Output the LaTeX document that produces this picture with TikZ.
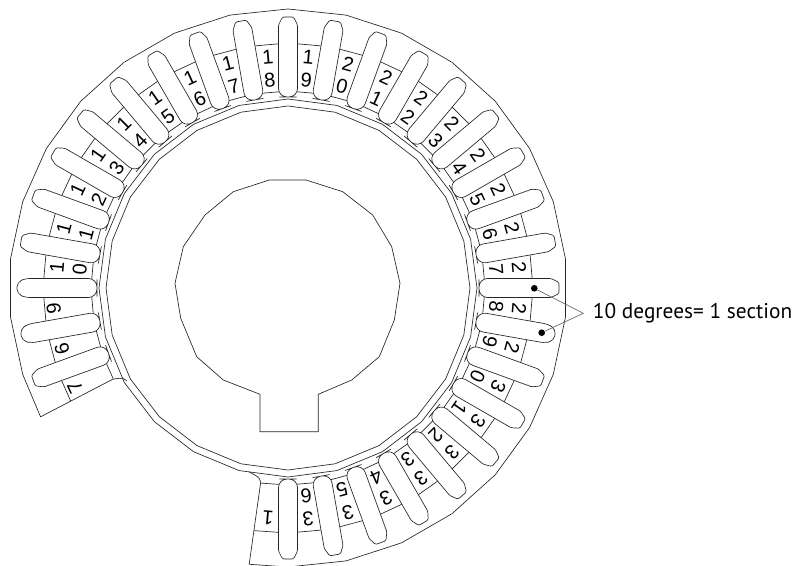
\documentclass[tikz,border=0pt]{standalone}
\usepackage{fontspec}
\usetikzlibrary{positioning}
\newfontfamily\digitfont{Liberation Sans}
\newfontfamily\calloutfont{PT Sans}

\newcommand{\sectiontab}[2]{
  \draw[tab shape,rotate=#1] (191,0) [rounded corners=6.5pt] -- (191,-9.5) -- (225,-9.5)
    [rounded corners=#2pt] -- (263,-9.5) -- (271,-5.5) -- (271,5.5) -- (263,9.5) -- (225,9.5)
    [rounded corners=6.5pt] -- (191,9.5) -- cycle;
}

\begin{document}
\begin{tikzpicture}[x=0.75pt,y=0.75pt,line width=0.5pt,
                    ring line/.style={draw=black!85},
                    tab shape/.style={draw=black!85,fill=white},
                    digit node/.style={inner sep=0pt,font=\digitfont\fontsize{15}{15}\selectfont},
                    end dot/.style={circle,fill=black,inner sep=0pt,minimum size=5pt},
                    callout node/.style={inner sep=0pt,font=\calloutfont\fontsize{16}{16}\selectfont}]

  \useasboundingbox (0,0) rectangle (793,565);

  % key shape in the middle
  \draw[ring line] (269.3,385) -- (306,385) -- (342.7,373.3) -- (372.7,350) -- (391.7,318.3)
    -- (400,281.7) -- (394.3,245) -- (379.3,208.3) -- (351.7,185) -- (318.3,170.7)
    -- (318.3,133.3) -- (260,133.3) -- (260,170.7) -- (223.3,185) -- (196.7,208.3)
    -- (180.7,246.7) -- (175,281.7) -- (183.3,318.3) -- (205,350) -- (233.3,373.3) -- cycle;

  \begin{scope}[shift={(288,277)}]
    % the two rings
    \draw[ring line] (0:182) \foreach \a in {15,30,...,345} {-- (\a:182)} -- cycle;
    \draw[ring line] (0:189) \foreach \a in {15,30,...,345} {-- (\a:189)} -- cycle;

    % outer band with its gap
    \coordinate (gap a) at (207.5:279);
    \coordinate (gap b) at (207.5:198);
    \coordinate (gap c) at (262:279);
    \coordinate (gap d) at (262:196);
    \draw[ring line] (gap b) to[out=10,in=130] (210:186);
    \draw[ring line] (gap d) to[out=100,in=-30] (258:188);
    \draw[ring line] (gap b) -- (gap a)
      \foreach \a in {198,186,...,-90} {-- (\a:279)} -- (gap c) -- (gap d);

    % section lines
    \draw[ring line] (207.5:245) \foreach \a in {200,190,...,-90} {-- (\a:245)} -- (262:245);
    \draw[ring line] (207.5:197) \foreach \a in {200,190,...,-90} {-- (\a:197)} -- (262:197);

    % tabs
    \foreach \a in {200,170,160,...,0,-20,-30,...,-90} {\sectiontab{\a}{1}}
    \foreach \a in {190,180,-10} {\sectiontab{\a}{3.5}}

    % section numbers
    \foreach \n in {10,...,36} {
      \pgfmathtruncatemacro{\a}{275-10*\n}
      \pgfmathtruncatemacro{\t}{\n/10}
      \pgfmathtruncatemacro{\u}{mod(\n,10)}
      \node[digit node,rotate=\a-90] (t\n) at (\a:232) {\t};
      \node[digit node,rotate=\a-90] (u\n) at (\a:209) {\u};
    }
    \node[digit node,rotate=95] (s9) at (185:235) {9};
    \node[digit node,rotate=105] (s8) at (195:234) {6};
    \node[digit node,rotate=115] (s7) at (205:235) {7};
    \node[digit node,rotate=175] (s1) at (265:231) {1};
  \end{scope}

  % callout
  \node[end dot] (dot a) at (534.3,276.7) {};
  \node[end dot] (dot b) at (541.7,232.3) {};
  \coordinate (apex) at (583.3,251.7);
  \node[callout node,right=7pt of apex] (callout) {10 degrees= 1 section};
  \draw[draw=black!60] (dot a) -- (apex) -- (dot b);
\end{tikzpicture}
\end{document}
